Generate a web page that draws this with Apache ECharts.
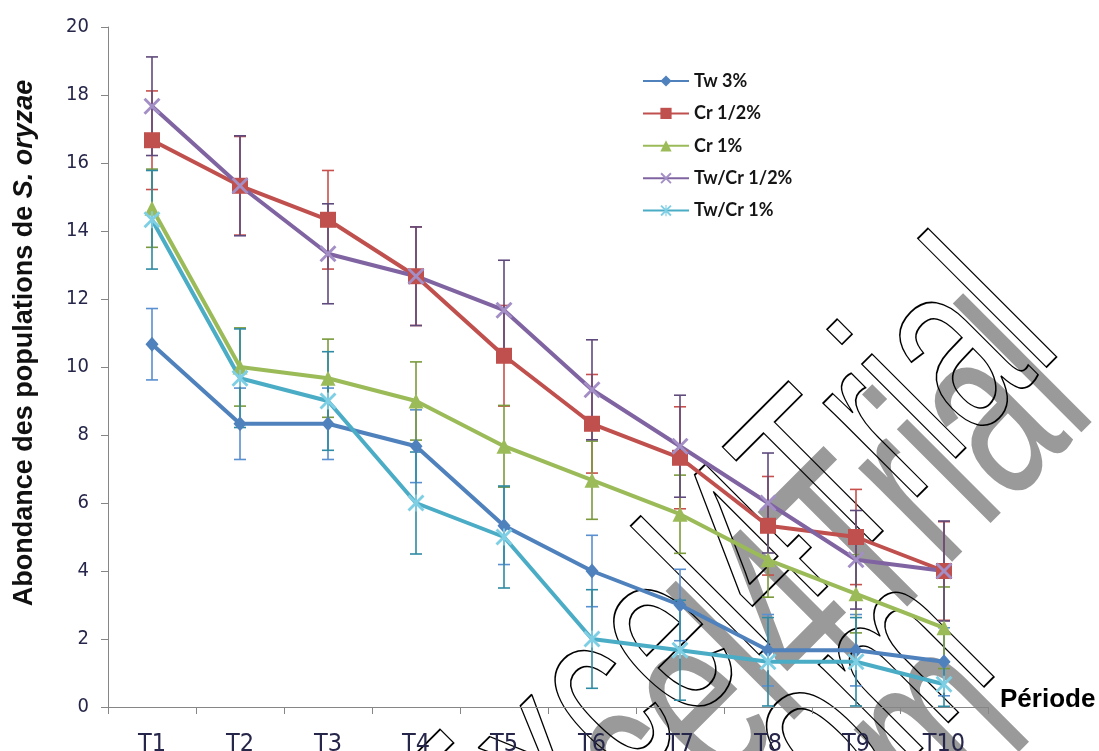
<!DOCTYPE html>
<html>
<head>
<meta charset="utf-8">
<script src="https://cdn.jsdelivr.net/npm/echarts@6/dist/echarts.min.js"></script>
<style>
  html, body { margin: 0; padding: 0; background: #fff; }
  #chart { width: 1099px; height: 751px; }
</style>
</head>
<body>
<div id="chart"></div>
<script>
// Sampling periods
const periods = ['T1', 'T2', 'T3', 'T4', 'T5', 'T6', 'T7', 'T8', 'T9', 'T10'];
const yTicks = [0, 2, 4, 6, 8, 10, 12, 14, 16, 18, 20];

// Mean abundance per treatment
const tw3    = [10.67, 8.33, 8.33, 7.67, 5.33, 4.00, 3.00, 1.67, 1.67, 1.33];
const cr05   = [16.67, 15.33, 14.33, 12.67, 10.33, 8.33, 7.33, 5.33, 5.00, 4.00];
const cr1    = [14.67, 10.00, 9.67, 9.00, 7.67, 6.67, 5.67, 4.33, 3.33, 2.33];
const twcr05 = [17.67, 15.33, 13.33, 12.67, 11.67, 9.33, 7.67, 6.00, 4.33, 4.00];
const twcr1  = [14.33, 9.67, 9.00, 6.00, 5.00, 2.00, 1.67, 1.33, 1.33, 0.67];

// Standard errors (symmetric error bars)
const tw3Err    = [1.05, 1.05, 1.05, 1.07, 1.14, 1.05, 1.05, 1.05, 1.05, 1.00];
const cr05Err   = [1.45, 1.45, 1.45, 1.45, 1.48, 1.45, 1.50, 1.45, 1.40, 1.45];
const cr1Err    = [1.15, 1.15, 1.15, 1.15, 1.20, 1.15, 1.15, 1.10, 1.15, 1.20];
const twcr05Err = [1.45, 1.47, 1.47, 1.45, 1.47, 1.47, 1.50, 1.47, 1.45, 1.47];
const twcr1Err  = [1.45, 1.45, 1.45, 1.50, 1.50, 1.45, 1.47, 1.30, 1.30, 0.65];

const seriesNames = ['Tw 3%', 'Cr 1/2%', 'Cr 1%', 'Tw/Cr 1/2%', 'Tw/Cr 1%'];

const X_SYMBOL = 'path://M0,0.12 L0.12,0 L0.5,0.38 L0.88,0 L1,0.12 L0.62,0.5 L1,0.88 L0.88,1 L0.5,0.62 L0.12,1 L0,0.88 L0.38,0.5 Z';
const STAR_SYMBOL = 'path://M0,0.12 L0.12,0 L0.5,0.38 L0.88,0 L1,0.12 L0.62,0.5 L1,0.88 L0.88,1 L0.5,0.62 L0.12,1 L0,0.88 L0.38,0.5 Z M0.45,0 L0.55,0 L0.55,1 L0.45,1 Z';

const defs = [
  { name: seriesNames[0], data: tw3,    err: tw3Err,    color: '#4F81BD', barColor: '#5a8fd0', markColor: '#4F81BD', symbol: 'diamond',  size: [13, 15] },
  { name: seriesNames[1], data: cr05,   err: cr05Err,   color: '#C0504D', barColor: '#c8504c', markColor: '#C0504D', symbol: 'rect',     size: 16 },
  { name: seriesNames[2], data: cr1,    err: cr1Err,    color: '#9BBB59', barColor: '#7a9a3c', markColor: '#9BBB59', symbol: 'triangle', size: 15 },
  { name: seriesNames[3], data: twcr05, err: twcr05Err, color: '#8064A2', barColor: '#5f4a7c', markColor: '#a38fc6', symbol: X_SYMBOL,   size: 17 },
  { name: seriesNames[4], data: twcr1,  err: twcr1Err,  color: '#4BACC6', barColor: '#2f8aa3', markColor: '#7fcfe4', symbol: STAR_SYMBOL, size: 17 }
];

function errorBarSeries(d) {
  return {
    type: 'custom',
    name: d.name + ' (erreur)',
    silent: true,
    z: 2,
    data: d.data.map((v, i) => [i, Math.max(0, v - d.err[i]), v + d.err[i]]),
    encode: { x: 0, y: [1, 2] },
    renderItem: function (params, api) {
      const i = api.value(0);
      const lo = api.coord([i, api.value(1)]);
      const hi = api.coord([i, api.value(2)]);
      const hw = 6;
      const st = { stroke: d.barColor, lineWidth: 1.6 };
      return {
        type: 'group',
        children: [
          { type: 'line', shape: { x1: lo[0], y1: lo[1], x2: hi[0], y2: hi[1] }, style: st },
          { type: 'line', shape: { x1: hi[0] - hw, y1: hi[1], x2: hi[0] + hw, y2: hi[1] }, style: st },
          { type: 'line', shape: { x1: lo[0] - hw, y1: lo[1], x2: lo[0] + hw, y2: lo[1] }, style: st }
        ]
      };
    }
  };
}

function lineSeries(d) {
  return {
    type: 'line',
    name: d.name,
    data: d.data,
    z: 3,
    symbol: d.symbol,
    symbolSize: d.size,
    showAllSymbol: true,
    lineStyle: { color: d.color, width: 4 },
    itemStyle: { color: d.markColor, borderWidth: 0 },
    emphasis: { disabled: true },
    animation: false
  };
}

// Watermark overlay: outlined text with a grey offset copy
const WM_FONT = 165, WM_SY = 1.52, WM_ROT = Math.PI / 4;
function wmText(text, x, y, style) {
  return {
    type: 'group', x: x, y: y, rotation: WM_ROT, z: 100, silent: true,
    children: [{
      type: 'text', y: 0.212 * WM_FONT * WM_SY, scaleY: WM_SY,
      style: Object.assign({
        text: text, font: WM_FONT + 'px "Liberation Sans", Arial, sans-serif',
        textAlign: 'left', textVerticalAlign: 'bottom'
      }, style)
    }]
  };
}
const greyStyle = { fill: '#9a9a9a' };
const outlineStyle = { fill: 'rgba(0,0,0,0)', stroke: '#000', lineWidth: 1.2 };
const WM_L1 = [494, 924], WM_L2 = [751, 924], WM_SHADOW = [35, 65];

const chart = echarts.init(document.getElementById('chart'), null, { renderer: 'canvas' });
chart.setOption({
  animation: false,
  backgroundColor: '#ffffff',
  grid: { left: 108, right: 111, top: 27, bottom: 44, containLabel: false, outerBoundsMode: 'none' },
  legend: {
    data: seriesNames,
    orient: 'vertical',
    left: 642,
    top: 72,
    padding: 0,
    itemWidth: 46,
    itemHeight: 14,
    itemGap: 14.4,
    selectedMode: false,
    textStyle: { fontFamily: 'Lato, "Open Sans", sans-serif', fontWeight: 'bold', fontSize: 18, color: '#151515', padding: [0, 0, 0, 0] }
  },
  xAxis: {
    type: 'category',
    data: periods,
    boundaryGap: true,
    axisLine: { lineStyle: { color: '#868686', width: 1 } },
    axisTick: { show: true, length: 7, inside: false, alignWithLabel: false, lineStyle: { color: '#868686' } },
    axisLabel: { margin: 25, fontSize: 25, fontFamily: '"Liberation Sans Narrow", "DejaVu Sans Condensed", "Liberation Sans", sans-serif', color: '#26264a' },
    splitLine: { show: false }
  },
  yAxis: {
    type: 'value',
    min: yTicks[0],
    max: yTicks[yTicks.length - 1],
    interval: 2,
    axisLine: { show: true, lineStyle: { color: '#868686', width: 1 } },
    axisTick: { show: true, length: 7, inside: false, lineStyle: { color: '#868686' } },
    axisLabel: { margin: 19, fontSize: 20, fontFamily: '"Liberation Sans Narrow", "DejaVu Sans Condensed", "Liberation Sans", sans-serif', color: '#26264a' },
    splitLine: { show: false }
  },
  graphic: [
    {
      type: 'text', x: 25, y: 343, rotation: Math.PI / 2, z: 50,
      style: {
        text: '{n|Abondance des populations de }{i|S. oryzae}',
        textAlign: 'center', textVerticalAlign: 'middle',
        rich: {
          n: { fontFamily: '"Liberation Sans", Arial, sans-serif', fontWeight: 'bold', fontSize: 27, fill: '#111' },
          i: { fontFamily: '"Liberation Sans", Arial, sans-serif', fontWeight: 'bold', fontStyle: 'italic', fontSize: 27, fill: '#111' }
        }
      }
    },
    {
      type: 'text', x: 1000, y: 700, z: 50,
      style: {
        text: 'Période', textAlign: 'left', textVerticalAlign: 'middle',
        font: 'bold 26px "Liberation Sans", Arial, sans-serif', fill: '#000'
      }
    },
    wmText('Excel4Trial', WM_L1[0] + WM_SHADOW[0], WM_L1[1] + WM_SHADOW[1], greyStyle),
    wmText('.com', WM_L2[0] + WM_SHADOW[0], WM_L2[1] + WM_SHADOW[1], greyStyle),
    wmText('Excel4Trial', WM_L1[0], WM_L1[1], outlineStyle),
    wmText('.com', WM_L2[0], WM_L2[1], outlineStyle)
  ],
  series: defs.map(errorBarSeries).concat(defs.map(lineSeries))
});
</script>
</body>
</html>
